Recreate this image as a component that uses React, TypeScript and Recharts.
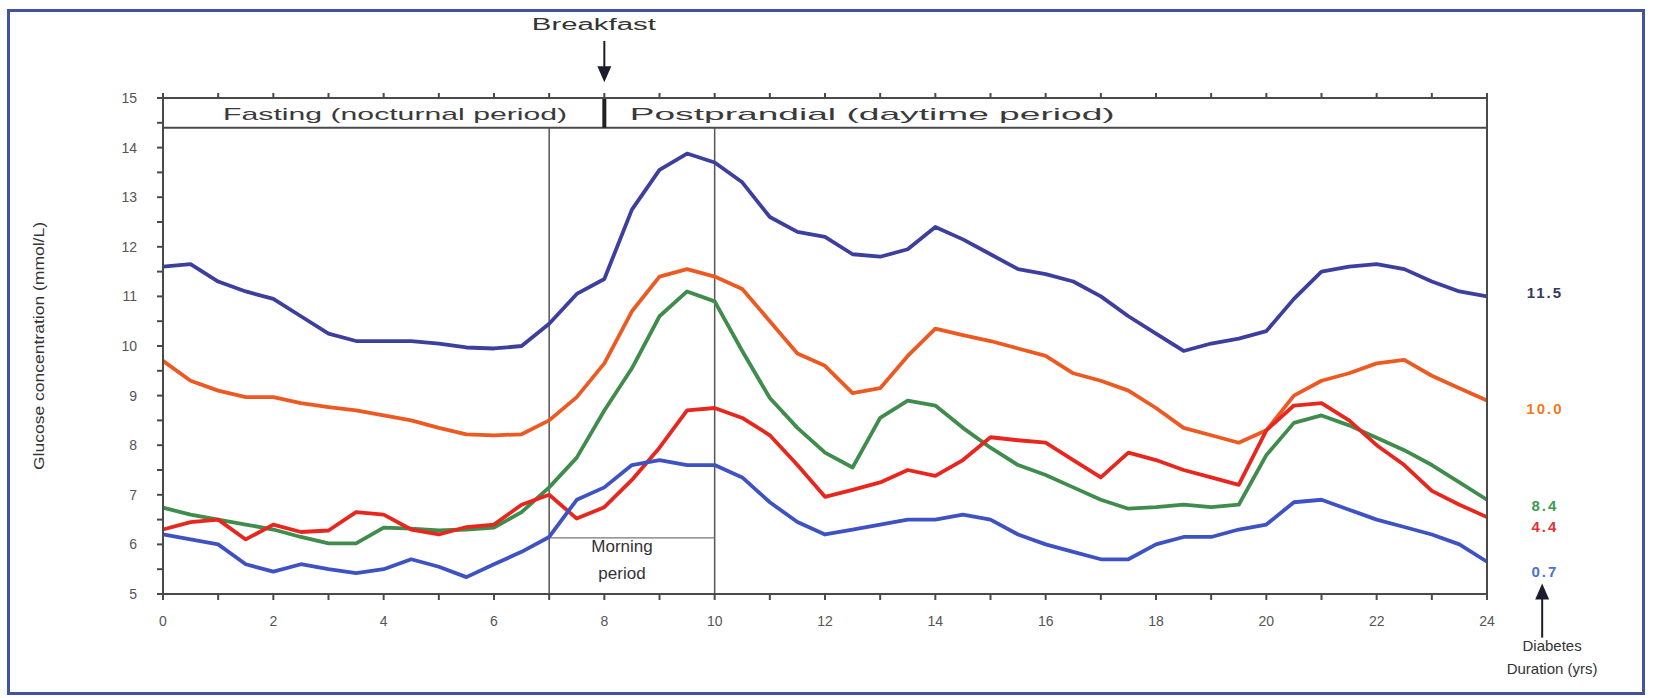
import { LineChart, Line, XAxis, YAxis, ReferenceLine, ReferenceDot } from 'recharts';

// hours of the day, half-hour steps
const HOURS = [
  0, 0.5, 1, 1.5, 2, 2.5, 3, 3.5, 4, 4.5, 5, 5.5, 6, 6.5, 7, 7.5, 8, 8.5, 9, 9.5, 10, 10.5, 11, 11.5,
  12, 12.5, 13, 13.5, 14, 14.5, 15, 15.5, 16, 16.5, 17, 17.5, 18, 18.5, 19, 19.5, 20, 20.5, 21, 21.5,
  22, 22.5, 23, 23.5, 24,
];

// glucose (mmol/L) by diabetes duration group
const DUR_11_5 = [
  11.6, 11.65, 11.3, 11.1, 10.95, 10.6, 10.25, 10.1, 10.1, 10.1, 10.05, 9.97, 9.95, 10.0, 10.45, 11.05,
  11.35, 12.75, 13.55, 13.88, 13.7, 13.3, 12.6, 12.3, 12.2, 11.85, 11.8, 11.95, 12.4, 12.15, 11.85, 11.55,
  11.45, 11.3, 11.0, 10.6, 10.25, 9.9, 10.05, 10.15, 10.3, 10.95, 11.5, 11.6, 11.65, 11.55, 11.3, 11.1, 11.0,
];
const DUR_10_0 = [
  9.7, 9.3, 9.1, 8.97, 8.97, 8.85, 8.77, 8.7, 8.6, 8.5, 8.35, 8.22, 8.2, 8.22, 8.5, 8.97,
  9.65, 10.7, 11.4, 11.55, 11.4, 11.15, 10.5, 9.85, 9.6, 9.05, 9.15, 9.8, 10.35, 10.22, 10.1, 9.95,
  9.8, 9.45, 9.3, 9.1, 8.75, 8.35, 8.2, 8.05, 8.3, 9.0, 9.3, 9.45, 9.65, 9.72, 9.4, 9.15, 8.9,
];
const DUR_8_4 = [
  6.74, 6.6, 6.5, 6.4, 6.3, 6.15, 6.02, 6.02, 6.34, 6.32, 6.28, 6.3, 6.34, 6.65, 7.15, 7.75,
  8.7, 9.55, 10.6, 11.1, 10.9, 9.9, 8.95, 8.35, 7.85, 7.55, 8.55, 8.9, 8.8, 8.35, 7.95, 7.6,
  7.4, 7.15, 6.9, 6.72, 6.75, 6.8, 6.75, 6.8, 7.8, 8.45, 8.6, 8.4, 8.15, 7.9, 7.6, 7.25, 6.9,
];
const DUR_4_4 = [
  6.3, 6.45, 6.5, 6.1, 6.4, 6.25, 6.28, 6.65, 6.6, 6.3, 6.2, 6.35, 6.4, 6.8, 7.0, 6.52,
  6.75, 7.3, 7.95, 8.7, 8.75, 8.55, 8.2, 7.6, 6.96, 7.1, 7.25, 7.5, 7.38, 7.7, 8.16, 8.1,
  8.05, 7.7, 7.35, 7.85, 7.7, 7.5, 7.35, 7.2, 8.3, 8.8, 8.85, 8.5, 8.0, 7.6, 7.08, 6.8, 6.55,
];
const DUR_0_7 = [
  6.2, 6.1, 6.0, 5.6, 5.45, 5.6, 5.5, 5.42, 5.5, 5.7, 5.55, 5.34, 5.6, 5.85, 6.15, 6.9,
  7.15, 7.6, 7.7, 7.6, 7.6, 7.35, 6.85, 6.45, 6.2, 6.3, 6.4, 6.5, 6.5, 6.6, 6.5, 6.2,
  6.0, 5.85, 5.7, 5.7, 6.0, 6.15, 6.15, 6.3, 6.4, 6.85, 6.9, 6.7, 6.5, 6.35, 6.2, 6.0, 5.65,
];

const X_TICKS = [0, 1, 2, 3, 4, 5, 6, 7, 8, 9, 10, 11, 12, 13, 14, 15, 16, 17, 18, 19, 20, 21, 22, 23, 24];
const Y_TICKS = [5, 5.5, 6, 6.5, 7, 7.5, 8, 8.5, 9, 9.5, 10, 10.5, 11, 11.5, 12, 12.5, 13, 13.5, 14, 14.5, 15];

const SERIES = [
  { key: 'd115', name: '11.5', values: DUR_11_5, color: '#3c3f9e', textColor: '#353a5e', labelY: 11.08 },
  { key: 'd100', name: '10.0', values: DUR_10_0, color: '#ec5a22', textColor: '#f07a22', labelY: 8.74 },
  { key: 'd84', name: '8.4', values: DUR_8_4, color: '#3f8c4c', textColor: '#3d9a52', labelY: 6.79 },
  { key: 'd44', name: '4.4', values: DUR_4_4, color: '#e8261e', textColor: '#e53030', labelY: 6.38 },
  { key: 'd07', name: '0.7', values: DUR_0_7, color: '#3e52c4', textColor: '#4a72d4', labelY: 5.47 },
];

const data = HOURS.map((h, i) => {
  const row: Record<string, number> = { h };
  SERIES.forEach((s) => {
    row[s.key] = s.values[i];
  });
  return row;
});

const FONT = '"Liberation Sans", Arial, sans-serif';
const AXIS = '#4a4a4a';

type TextOpts = {
  size?: number;
  color?: string;
  anchor?: string;
  weight?: string;
  rotate?: boolean;
  len?: number;
  spacing?: number;
  gap?: number;
};

const textShape =
  (lines: string[], opts: TextOpts = {}) =>
  (p: any) => (
    <text
      x={p.cx}
      y={p.cy}
      fontFamily={FONT}
      fontSize={opts.size ?? 16}
      fill={opts.color ?? '#333'}
      fontWeight={opts.weight ?? 'normal'}
      textAnchor={(opts.anchor as any) ?? 'middle'}
      dominantBaseline="central"
      letterSpacing={opts.spacing ?? 0}
      transform={opts.rotate ? `rotate(-90 ${p.cx} ${p.cy})` : undefined}
      textLength={opts.len}
      lengthAdjust={opts.len ? 'spacingAndGlyphs' : undefined}
    >
      {lines.map((l, i) => (
        <tspan key={l} x={p.cx} dy={i === 0 ? -((lines.length - 1) * (opts.gap ?? 22)) / 2 : opts.gap ?? 22}>
          {l}
        </tspan>
      ))}
    </text>
  );

const arrowHead = (dir: 'down' | 'up') => (p: any) => {
  const { cx, cy } = p;
  const d =
    dir === 'down'
      ? `M${cx - 7},${cy - 16} L${cx + 7},${cy - 16} L${cx},${cy} Z`
      : `M${cx - 7},${cy + 16} L${cx + 7},${cy + 16} L${cx},${cy} Z`;
  return <path d={d} fill="#1c1c2c" />;
};

const yTickFmt = (v: number) => (Number.isInteger(v) ? String(v) : '');
const xTickFmt = (v: number) => (v % 2 === 0 ? String(v) : '');
const blank = () => '';

export default function App() {
  return (
    <div style={{ position: 'absolute', left: 0, top: 0, width: 1653, height: 698, background: '#fff' }}>
      <div
        style={{
          position: 'absolute',
          left: 7,
          top: 9,
          width: 1638,
          height: 686,
          boxSizing: 'border-box',
          border: '3px solid #4352a0',
        }}
      />
      <div style={{ position: 'absolute', left: 0, top: 0 }}>
        <LineChart width={1653} height={698} data={data} margin={{ top: 88, right: 156, bottom: 74, left: 123 }}>
          <XAxis
            xAxisId={0}
            dataKey="h"
            type="number"
            domain={[0, 24]}
            ticks={X_TICKS}
            tickFormatter={xTickFmt}
            height={30}
            stroke={AXIS}
            strokeWidth={2}
            tickSize={6}
            tickMargin={16}
            tick={{ fontSize: 14, fill: '#555', fontFamily: FONT }}
          />
          <XAxis
            xAxisId="top"
            orientation="top"
            dataKey="h"
            type="number"
            domain={[0, 24]}
            ticks={X_TICKS}
            tickFormatter={blank}
            height={10}
            stroke={AXIS}
            strokeWidth={2}
            tickSize={5}
          />
          <YAxis
            yAxisId={0}
            type="number"
            domain={[5, 15]}
            ticks={Y_TICKS}
            tickFormatter={yTickFmt}
            width={40}
            stroke={AXIS}
            strokeWidth={2}
            tickSize={6}
            tickMargin={20}
            tick={{ fontSize: 14, fill: '#555', fontFamily: FONT }}
          />
          <YAxis
            yAxisId="right"
            orientation="right"
            type="number"
            domain={[5, 15]}
            ticks={Y_TICKS}
            tickFormatter={blank}
            width={10}
            stroke={AXIS}
            strokeWidth={2}
            tickSize={5}
          />

          {/* header band */}
          <ReferenceLine y={14.4} stroke={AXIS} strokeWidth={2} />
          <ReferenceLine segment={[{ x: 8, y: 15 }, { x: 8, y: 14.4 }]} stroke="#222" strokeWidth={4} />
          <ReferenceDot
            x={1.09}
            y={14.68}
            r={0}
            ifOverflow="visible"
            shape={textShape(['Fasting (nocturnal period)'], { size: 17, anchor: 'start', len: 344, color: '#3a3a3a' })}
          />
          <ReferenceDot
            x={8.46}
            y={14.68}
            r={0}
            ifOverflow="visible"
            shape={textShape(['Postprandial (daytime period)'], { size: 17, anchor: 'start', len: 485, color: '#3a3a3a' })}
          />

          {/* breakfast marker */}
          <ReferenceLine segment={[{ x: 8, y: 16.15 }, { x: 8, y: 15.5 }]} stroke="#1c1c2c" strokeWidth={2} ifOverflow="visible" />
          <ReferenceDot x={8} y={15.32} r={0} ifOverflow="visible" shape={arrowHead('down')} />
          <ReferenceDot
            x={7.81}
            y={16.5}
            r={0}
            ifOverflow="visible"
            shape={textShape(['Breakfast'], { size: 16, color: '#333', len: 124 })}
          />

          {/* morning period box */}
          <ReferenceLine segment={[{ x: 7, y: 14.4 }, { x: 7, y: 5 }]} stroke="#555" strokeWidth={1.5} />
          <ReferenceLine segment={[{ x: 10, y: 14.4 }, { x: 10, y: 5 }]} stroke="#555" strokeWidth={1.5} />
          <ReferenceLine segment={[{ x: 7, y: 6.13 }, { x: 10, y: 6.13 }]} stroke="#777" strokeWidth={1.2} />
          <ReferenceDot
            x={8.32}
            y={5.7}
            r={0}
            ifOverflow="visible"
            shape={textShape(['Morning', 'period'], { size: 17, color: '#333', gap: 27 })}
          />

          {SERIES.map((s) => (
            <Line
              key={s.key}
              dataKey={s.key}
              type="linear"
              stroke={s.color}
              strokeWidth={3.8}
              strokeLinejoin="round"
              dot={false}
              isAnimationActive={false}
            />
          ))}

          {/* duration labels on the right */}
          {SERIES.map((s) => (
            <ReferenceDot
              key={`lbl-${s.key}`}
              x={25.05}
              y={s.labelY}
              r={0}
              ifOverflow="visible"
              shape={textShape([s.name], { size: 15, color: s.textColor, weight: 'bold', spacing: 2 })}
            />
          ))}

          {/* diabetes duration arrow */}
          <ReferenceLine segment={[{ x: 25.0, y: 4.12 }, { x: 25.0, y: 4.9 }]} stroke="#1c1c2c" strokeWidth={2} ifOverflow="visible" />
          <ReferenceDot x={25.0} y={5.21} r={0} ifOverflow="visible" shape={arrowHead('up')} />
          <ReferenceDot
            x={25.18}
            y={3.74}
            r={0}
            ifOverflow="visible"
            shape={textShape(['Diabetes', 'Duration (yrs)'], { size: 15, color: '#333', gap: 23 })}
          />

          {/* y axis title */}
          <ReferenceDot
            x={-2.27}
            y={10.0}
            r={0}
            ifOverflow="visible"
            shape={textShape(['Glucose concentration (mmol/L)'], { size: 15, color: '#333', rotate: true, len: 248 })}
          />
        </LineChart>
      </div>
    </div>
  );
}
